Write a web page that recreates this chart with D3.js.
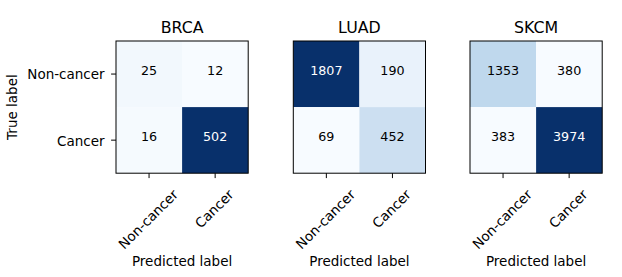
<!DOCTYPE html>
<html>
<head>
<meta charset="utf-8">
<script src="https://cdn.jsdelivr.net/npm/d3@7"></script>
<style>
  html, body { margin: 0; padding: 0; background: #fff; }
  svg { display: block; font-family: "DejaVu Sans", sans-serif; }
</style>
</head>
<body>
<svg id="chart" width="622" height="277"></svg>
<script>
// ---- data ----
const titles = ["BRCA", "LUAD", "SKCM"];
const classes = ["Non-cancer", "Cancer"];
const brcaValues = [[25, 12], [16, 502]];
const luadValues = [[1807, 190], [69, 452]];
const skcmValues = [[1353, 380], [383, 3974]];
const matrices = [brcaValues, luadValues, skcmValues];
const xAxisLabel = "Predicted label";
const yAxisLabel = "True label";

// matplotlib "Blues" colormap stops
const blues = ["#f7fbff","#deebf7","#c6dbef","#9ecae1","#6baed6","#4292c6","#2171b5","#08519c","#08306b"];

// ---- layout ----
const panelLefts = [116, 293.3, 470];
const panelTop = 41;
const size = 132.2;
const tickLen = 4.9;
const tickFont = 13.5;
const cellFont = 12.7;
const titleFont = 15.8;

const svg = d3.select("#chart");

matrices.forEach((m, pi) => {
  const g = svg.append("g").attr("transform", `translate(${panelLefts[pi]},${panelTop})`);
  const x = d3.scaleBand().domain(classes).range([0, size]);
  const y = d3.scaleBand().domain(classes).range([0, size]);
  const flat = m.flat();
  const vmin = d3.min(flat), vmax = d3.max(flat);
  const color = d3.scaleLinear()
    .domain(d3.range(blues.length).map(i => vmin + i * (vmax - vmin) / (blues.length - 1)))
    .range(blues)
    .interpolate(d3.interpolateRgb);
  const thresh = vmax / 2;

  const cells = [];
  m.forEach((row, ri) => row.forEach((v, ci) => cells.push({ r: classes[ri], c: classes[ci], v })));

  g.selectAll("rect.cell").data(cells).enter().append("rect")
    .attr("class", "cell")
    .attr("x", d => x(d.c))
    .attr("y", d => y(d.r))
    .attr("width", x.bandwidth())
    .attr("height", y.bandwidth())
    .attr("fill", d => color(d.v));

  g.selectAll("text.val").data(cells).enter().append("text")
    .attr("class", "val")
    .attr("x", d => x(d.c) + x.bandwidth() / 2)
    .attr("y", d => y(d.r) + y.bandwidth() / 2 + 0.5)
    .attr("text-anchor", "middle")
    .attr("font-size", cellFont)
    .attr("fill", d => d.v > thresh ? "#ffffff" : "#000000")
    .text(d => d.v);

  // frame
  g.append("rect")
    .attr("x", 0).attr("y", 0).attr("width", size).attr("height", size)
    .attr("fill", "none").attr("stroke", "#000").attr("stroke-width", 1);

  // title
  g.append("text")
    .attr("x", size / 2).attr("y", 33 - panelTop)
    .attr("text-anchor", "middle")
    .attr("font-size", titleFont)
    .attr("fill", "#000")
    .text(titles[pi]);

  // x axis
  const xa = g.append("g").attr("transform", `translate(0,${size})`)
    .call(d3.axisBottom(x).tickSize(tickLen).tickSizeOuter(0));
  xa.select(".domain").remove();
  xa.selectAll(".tick line").attr("stroke", "#000");
  xa.selectAll(".tick text").each(function () {
    const t = d3.select(this);
    t.attr("font-size", tickFont).attr("font-family", "DejaVu Sans").attr("fill", "#000");
    const w = this.getComputedTextLength();
    const h = tickFont * 1.16;
    const half = (w + h) * Math.SQRT1_2 / 2;
    const cy = tickLen + 4.9 + half + 2.2;
    t.attr("y", null).attr("dy", null)
      .attr("x", -1.5)
      .attr("text-anchor", "middle")
      .attr("dominant-baseline", "central")
      .attr("transform", `translate(0,${cy}) rotate(-45)`);
  });

  if (pi === 0) {
    const ya = g.append("g").call(d3.axisLeft(y).tickSize(tickLen).tickSizeOuter(0).tickPadding(6.5));
    ya.select(".domain").remove();
    ya.selectAll(".tick line").attr("stroke", "#000");
    ya.selectAll(".tick text")
      .attr("font-size", tickFont).attr("font-family", "DejaVu Sans").attr("fill", "#000")
      .attr("dy", "0.4em");
    g.append("text")
      .attr("transform", `translate(${17 - panelLefts[0]},${size / 2}) rotate(-90)`)
      .attr("text-anchor", "middle")
      .attr("font-size", tickFont)
      .attr("fill", "#000")
      .text(yAxisLabel);
  }

  // x axis label
  g.append("text")
    .attr("x", size / 2).attr("y", 266 - panelTop)
    .attr("text-anchor", "middle")
    .attr("font-size", tickFont)
    .attr("fill", "#000")
    .text(xAxisLabel);
});
</script>
</body>
</html>
